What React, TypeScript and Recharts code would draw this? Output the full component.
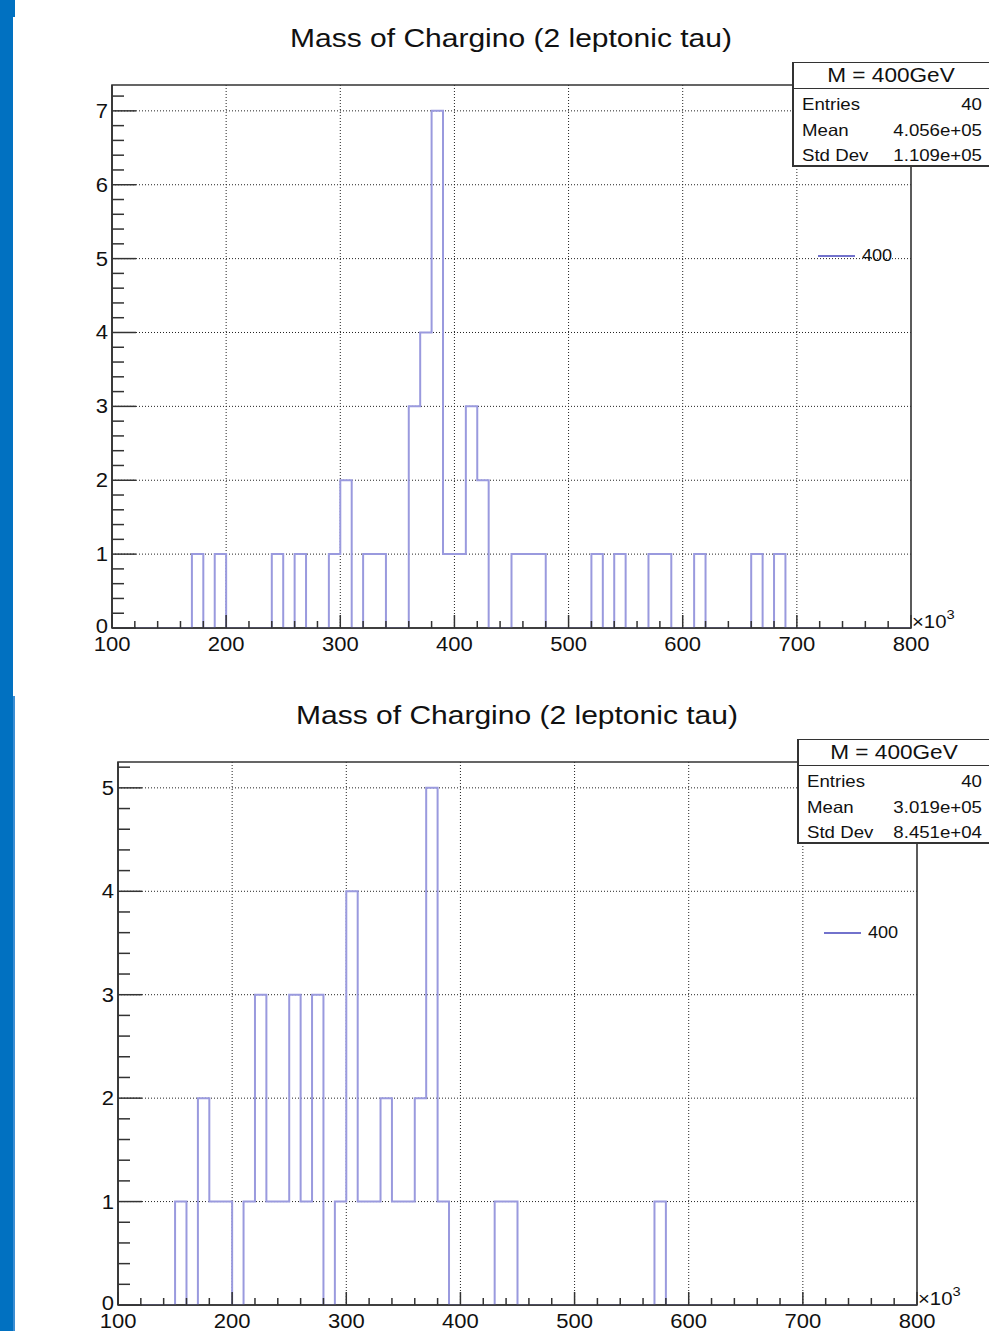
import React from "react";
import {
  CartesianGrid,
  ComposedChart,
  Line,
  ReferenceArea,
  XAxis,
  YAxis,
} from "recharts";

const FONT = '"Liberation Sans", Arial, Helvetica, sans-serif';
const STRETCH = 1.13; // source screenshot is a little wider than tall
const HIST_COLOR = "#9a9ade";
const LEGEND_COLOR = "#7272cc";
const FRAME = "#333";
const INK = "#111";

const title = "Mass of Chargino (2 leptonic tau)";
const statsTitle = "M = 400GeV";
const seriesName = "400";

// 70 bins of 10 (x10^3) from 100 to 800
const binStart = 100;
const binWidth = 10;

const countsTop = [
  0, 0, 0, 0, 0, 0, 0, 1, 0, 1,
  0, 0, 0, 0, 1, 0, 1, 0, 0, 1,
  2, 0, 1, 1, 0, 0, 3, 4, 7, 1,
  1, 3, 2, 0, 0, 1, 1, 1, 0, 0,
  0, 0, 1, 0, 1, 0, 0, 1, 1, 0,
  0, 1, 0, 0, 0, 0, 1, 0, 1, 0,
  0, 0, 0, 0, 0, 0, 0, 0, 0, 0,
];

const countsBottom = [
  0, 0, 0, 0, 0, 1, 0, 2, 1, 1,
  0, 1, 3, 1, 1, 3, 1, 3, 0, 1,
  4, 1, 1, 2, 1, 1, 2, 5, 1, 0,
  0, 0, 0, 1, 1, 0, 0, 0, 0, 0,
  0, 0, 0, 0, 0, 0, 0, 1, 0, 0,
  0, 0, 0, 0, 0, 0, 0, 0, 0, 0,
  0, 0, 0, 0, 0, 0, 0, 0, 0, 0,
];

const statsLabels = ["Entries", "Mean", "Std Dev"];
const statsTop = ["40", "4.056e+05", "1.109e+05"];
const statsBottom = ["40", "3.019e+05", "8.451e+04"];

const xMajor = [100, 200, 300, 400, 500, 600, 700, 800];
const yMajorTop = [0, 1, 2, 3, 4, 5, 6, 7];
const yMajorBottom = [0, 1, 2, 3, 4, 5];

function toSteps(counts: number[]) {
  const rows = counts.map((n, i) => ({ x: binStart + i * binWidth, n }));
  rows.push({ x: binStart + counts.length * binWidth, n: counts[counts.length - 1] });
  return rows;
}

function subdivide(majors: number[], div: number, max: number) {
  const step = (majors[1] - majors[0]) / div;
  const out: number[] = [];
  for (let k = 0; majors[0] + k * step <= max + 1e-9; k++) {
    out.push(+(majors[0] + k * step).toFixed(3));
  }
  return out;
}

// absolutely placed text, caps centred on y
function Txt({ x, y, size, anchor = "start", stretch = STRETCH, children }: any) {
  const shift = anchor === "end" ? 100 : anchor === "middle" ? 50 : 0;
  const h = Math.round(size * 1.4);
  return (
    <span
      style={{
        position: "absolute",
        left: x,
        top: y - h / 2,
        height: h,
        lineHeight: `${h}px`,
        fontSize: size,
        fontFamily: FONT,
        color: INK,
        whiteSpace: "nowrap",
        transformOrigin: "0 50%",
        transform: `scaleX(${stretch}) translateX(${-shift}%)`,
      }}
    >
      {children}
    </span>
  );
}

function XTick({ x, y, payload }: any) {
  const v = payload.value;
  const major = xMajor.includes(v);
  const last = v === xMajor[xMajor.length - 1];
  return (
    <g>
      <line x1={x} y1={y} x2={x} y2={y - (major ? 13 : 7)} stroke={FRAME} strokeWidth={1.5} />
      {major && (
        <g transform={`translate(${x},${y + 22.5}) scale(${STRETCH},1)`}>
          <text textAnchor="middle" fontSize={19.5} fontFamily={FONT} fill={INK}>
            {v}
          </text>
        </g>
      )}
      {last && (
        <g transform={`translate(${x + 1},${y}) scale(${STRETCH},1)`}>
          <text fontSize={18} fontFamily={FONT} fill={INK}>
            ×10
            <tspan dy={-9} fontSize={13}>
              3
            </tspan>
          </text>
        </g>
      )}
    </g>
  );
}

function YTick({ x, y, payload, majors }: any) {
  const v = payload.value;
  const major = majors.includes(v);
  return (
    <g>
      <line x1={x} y1={y} x2={x + (major ? 24 : 12)} y2={y} stroke={FRAME} strokeWidth={1.5} />
      {major && (
        <g transform={`translate(${x - 4},${y + (v === 0 ? 5 : 7)}) scale(${STRETCH},1)`}>
          <text textAnchor="end" fontSize={19.5} fontFamily={FONT} fill={INK}>
            {v}
          </text>
        </g>
      )}
    </g>
  );
}

function Panel({ counts, stats, yMajor, left, top, height }: any) {
  const rows = toSteps(counts);
  const yMax = Math.max(...counts) * 1.05;
  const xTicks = subdivide(xMajor, 5, xMajor[xMajor.length - 1]);
  const yTicks = subdivide(yMajor, 5, yMax);
  const boxLeft = 791.7;
  const boxRight = 990 - left;
  const rowY = [104, 130, 155.5];

  return (
    <div style={{ position: "absolute", left, top, width: 989, height }}>
      <Txt x={511} y={38} size={25} anchor="middle" stretch={1.2}>
        {title}
      </Txt>
      <ComposedChart
        width={989}
        height={height}
        data={rows}
        margin={{ top: 85, right: 78, bottom: height - 629, left: 111 }}
      >
        <CartesianGrid
          stroke="#222"
          strokeDasharray="1 2"
          horizontalValues={yMajor.slice(1)}
          verticalValues={xMajor.slice(1, -1)}
        />
        <Line
          type="stepAfter"
          dataKey="n"
          name={seriesName}
          stroke={HIST_COLOR}
          strokeWidth={2}
          dot={false}
          activeDot={false}
          isAnimationActive={false}
        />
        <ReferenceArea
          x1={xMajor[0]}
          x2={xMajor[xMajor.length - 1]}
          y1={0}
          y2={yMax}
          fill="none"
          stroke={FRAME}
          strokeWidth={1.6}
          ifOverflow="visible"
        />
        <XAxis
          type="number"
          dataKey="x"
          domain={[xMajor[0], xMajor[xMajor.length - 1]]}
          ticks={xTicks}
          interval={0}
          height={1}
          tickSize={0}
          tickMargin={0}
          tickLine={false}
          axisLine={{ stroke: FRAME, strokeWidth: 1.6 }}
          tick={(p: any) => <XTick {...p} />}
        />
        <YAxis
          type="number"
          domain={[0, yMax]}
          allowDataOverflow
          ticks={yTicks}
          interval={0}
          width={1}
          tickSize={0}
          tickMargin={0}
          tickLine={false}
          axisLine={{ stroke: FRAME, strokeWidth: 1.6 }}
          tick={(p: any) => <YTick {...p} majors={yMajor} />}
        />
      </ComposedChart>

      {/* legend */}
      <div style={{ position: "absolute", left: 818, top: 256 - 1.25, width: 37, borderTop: `2.5px solid ${LEGEND_COLOR}` }} />
      <Txt x={862} y={256} size={16}>
        {seriesName}
      </Txt>

      {/* stats box */}
      <div
        style={{
          position: "absolute",
          left: boxLeft,
          top: 61.5,
          width: boxRight - boxLeft,
          height: 167 - 61.5,
          boxSizing: "border-box",
          background: "#fff",
          border: `1px solid ${FRAME}`,
          borderLeftWidth: 2,
          borderBottomWidth: 2,
        }}
      >
        <div style={{ height: 25, borderBottom: `1px solid ${FRAME}` }} />
      </div>
      <Txt x={(boxLeft + boxRight) / 2} y={74.5} size={20} anchor="middle">
        {statsTitle}
      </Txt>
      {statsLabels.map((label, i) => (
        <React.Fragment key={label}>
          <Txt x={boxLeft + 10} y={rowY[i]} size={16.5}>
            {label}
          </Txt>
          <Txt x={boxRight - 8} y={rowY[i]} size={16.5} anchor="end">
            {stats[i]}
          </Txt>
        </React.Fragment>
      ))}
    </div>
  );
}

export default function App() {
  return (
    <div
      style={{
        position: "absolute",
        left: 0,
        top: 0,
        width: 989,
        height: 1331,
        overflow: "hidden",
        background: "#fff",
      }}
    >
      <Panel counts={countsTop} stats={statsTop} yMajor={yMajorTop} left={0} top={0} height={677} />
      <Panel counts={countsBottom} stats={statsBottom} yMajor={yMajorBottom} left={5.5} top={677} height={654} />
      <div style={{ position: "absolute", left: 0, top: 0, width: 12.7, height: 1331, background: "#0171c1" }} />
      <div style={{ position: "absolute", left: 0, top: 0, width: 15, height: 17, background: "#0171c1" }} />
      <div style={{ position: "absolute", left: 12.7, top: 696, width: 2.3, height: 635, background: "#3b8ed3" }} />
    </div>
  );
}
